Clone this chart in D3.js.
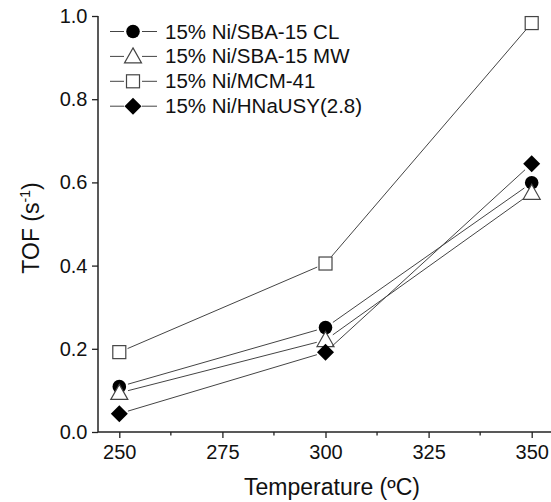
<!DOCTYPE html>
<html><head><meta charset="utf-8">
<script src="https://cdn.jsdelivr.net/npm/d3@7"></script>
<style>body{margin:0;background:#fff;} svg{display:block;}</style>
</head><body>
<svg id="c" width="551" height="502"></svg>
<script>
const temperatures = [250, 300, 350];
const seriesNames = ["15% Ni/SBA-15 CL", "15% Ni/SBA-15 MW", "15% Ni/MCM-41", "15% Ni/HNaUSY(2.8)"];
const seriesSymbols = ["circle", "triangle", "square", "diamond"];
const valsCL = [0.109, 0.251, 0.599];
const valsMW = [0.094, 0.221, 0.575];
const valsMCM = [0.192, 0.405, 0.983];
const valsHNa = [0.044, 0.192, 0.645];
const xTicks = [250, 275, 300, 325, 350];
const yTicks = [0.0, 0.2, 0.4, 0.6, 0.8, 1.0];

const series = [valsCL, valsMW, valsMCM, valsHNa].map((v, i) => ({name: seriesNames[i], sym: seriesSymbols[i], vals: v}));

const svg = d3.select("#c");
const font = "'Liberation Sans', Arial, sans-serif";
const ink = "#222";
const x = d3.scaleLinear().domain([250, 350]).range([119.3, 531.7]);
const y = d3.scaleLinear().domain([0, 1]).range([432, 16]);
const axisX0 = 98, axisXEnd = 551;

// axes
const gx = svg.append("g").attr("transform", `translate(0,${y(0)})`);
gx.append("line").attr("x1", axisX0).attr("x2", axisXEnd).attr("stroke", ink).attr("stroke-width", 1.5);
const xAxis = d3.axisBottom(x).tickValues(xTicks).tickSize(6).tickPadding(7).tickFormat(d3.format("d"));
const gxa = gx.append("g").call(xAxis);
gxa.select(".domain").remove();
gxa.selectAll("line").attr("stroke", ink).attr("stroke-width", 1.3);
gxa.selectAll("text").attr("font-family", font).attr("font-size", 20).attr("fill", "#111");
const minorX = [262.5, 287.5, 312.5, 337.5];
gx.selectAll(".mx").data(minorX).enter().append("line")
  .attr("x1", d => x(d)).attr("x2", d => x(d)).attr("y1", 0).attr("y2", 3.5)
  .attr("stroke", ink).attr("stroke-width", 1.3);

const gy = svg.append("g").attr("transform", `translate(${axisX0},0)`);
gy.append("line").attr("y1", y(1)).attr("y2", y(0)).attr("stroke", ink).attr("stroke-width", 1.5);
const yAxis = d3.axisLeft(y).tickValues(yTicks).tickSize(6).tickPadding(4.5).tickFormat(d3.format(".1f"));
const gya = gy.append("g").call(yAxis);
gya.select(".domain").remove();
gya.selectAll("line").attr("stroke", ink).attr("stroke-width", 1.3);
gya.selectAll("text").attr("font-family", font).attr("font-size", 20).attr("fill", "#111");

// axis titles
svg.append("text").attr("x", 332).attr("y", 495).attr("text-anchor", "middle")
  .attr("font-family", font).attr("font-size", 23).attr("fill", "#111").text("Temperature (ºC)");
const yl = svg.append("text").attr("transform", "translate(39,228) rotate(-90)").attr("text-anchor", "middle")
  .attr("font-family", font).attr("font-size", 23).attr("fill", "#111");
yl.append("tspan").text("TOF (s");
yl.append("tspan").attr("dy", -9).attr("font-size", 14).text("-1");
yl.append("tspan").attr("dy", 9).text(")");

// markers
function drawMarker(g, sym, cx, cy) {
  if (sym === "circle") g.append("circle").attr("cx", cx).attr("cy", cy).attr("r", 6.8).attr("fill", "#000");
  else if (sym === "square") g.append("rect").attr("x", cx - 6.5).attr("y", cy - 6.5).attr("width", 13).attr("height", 13)
      .attr("fill", "#fff").attr("stroke", "#444").attr("stroke-width", 1.2);
  else if (sym === "triangle") g.append("path")
      .attr("d", `M${cx},${cy - 8.5}L${cx + 8.5},${cy + 6.5}L${cx - 8.5},${cy + 6.5}Z`)
      .attr("fill", "#fff").attr("stroke", "#444").attr("stroke-width", 1.2);
  else if (sym === "diamond") g.append("path")
      .attr("d", `M${cx},${cy - 8.5}L${cx + 8.5},${cy}L${cx},${cy + 8.5}L${cx - 8.5},${cy}Z`).attr("fill", "#000");
}

const gap = 9;
series.forEach(s => {
  const g = svg.append("g");
  const pts = s.vals.map((v, i) => [x(temperatures[i]), y(v)]);
  for (let i = 0; i < pts.length - 1; i++) {
    const [x1, y1] = pts[i], [x2, y2] = pts[i + 1];
    const L = Math.hypot(x2 - x1, y2 - y1), ux = (x2 - x1) / L, uy = (y2 - y1) / L;
    g.append("line").attr("x1", x1 + ux * gap).attr("y1", y1 + uy * gap)
      .attr("x2", x2 - ux * gap).attr("y2", y2 - uy * gap)
      .attr("stroke", "#444").attr("stroke-width", 1);
  }
  pts.forEach(p => drawMarker(g, s.sym, p[0], p[1]));
});

// legend
const lg = svg.append("g");
series.forEach((s, i) => {
  const cy = 31.5 + i * 24.9;
  lg.append("line").attr("x1", 110).attr("x2", 124).attr("y1", cy).attr("y2", cy).attr("stroke", "#444");
  lg.append("line").attr("x1", 142).attr("x2", 157).attr("y1", cy).attr("y2", cy).attr("stroke", "#444");
  drawMarker(lg, s.sym, 133, cy);
  lg.append("text").attr("x", 165).attr("y", cy + 7).attr("font-family", font).attr("font-size", 20.5)
    .attr("fill", "#111").text(s.name);
});
</script>
</body></html>
